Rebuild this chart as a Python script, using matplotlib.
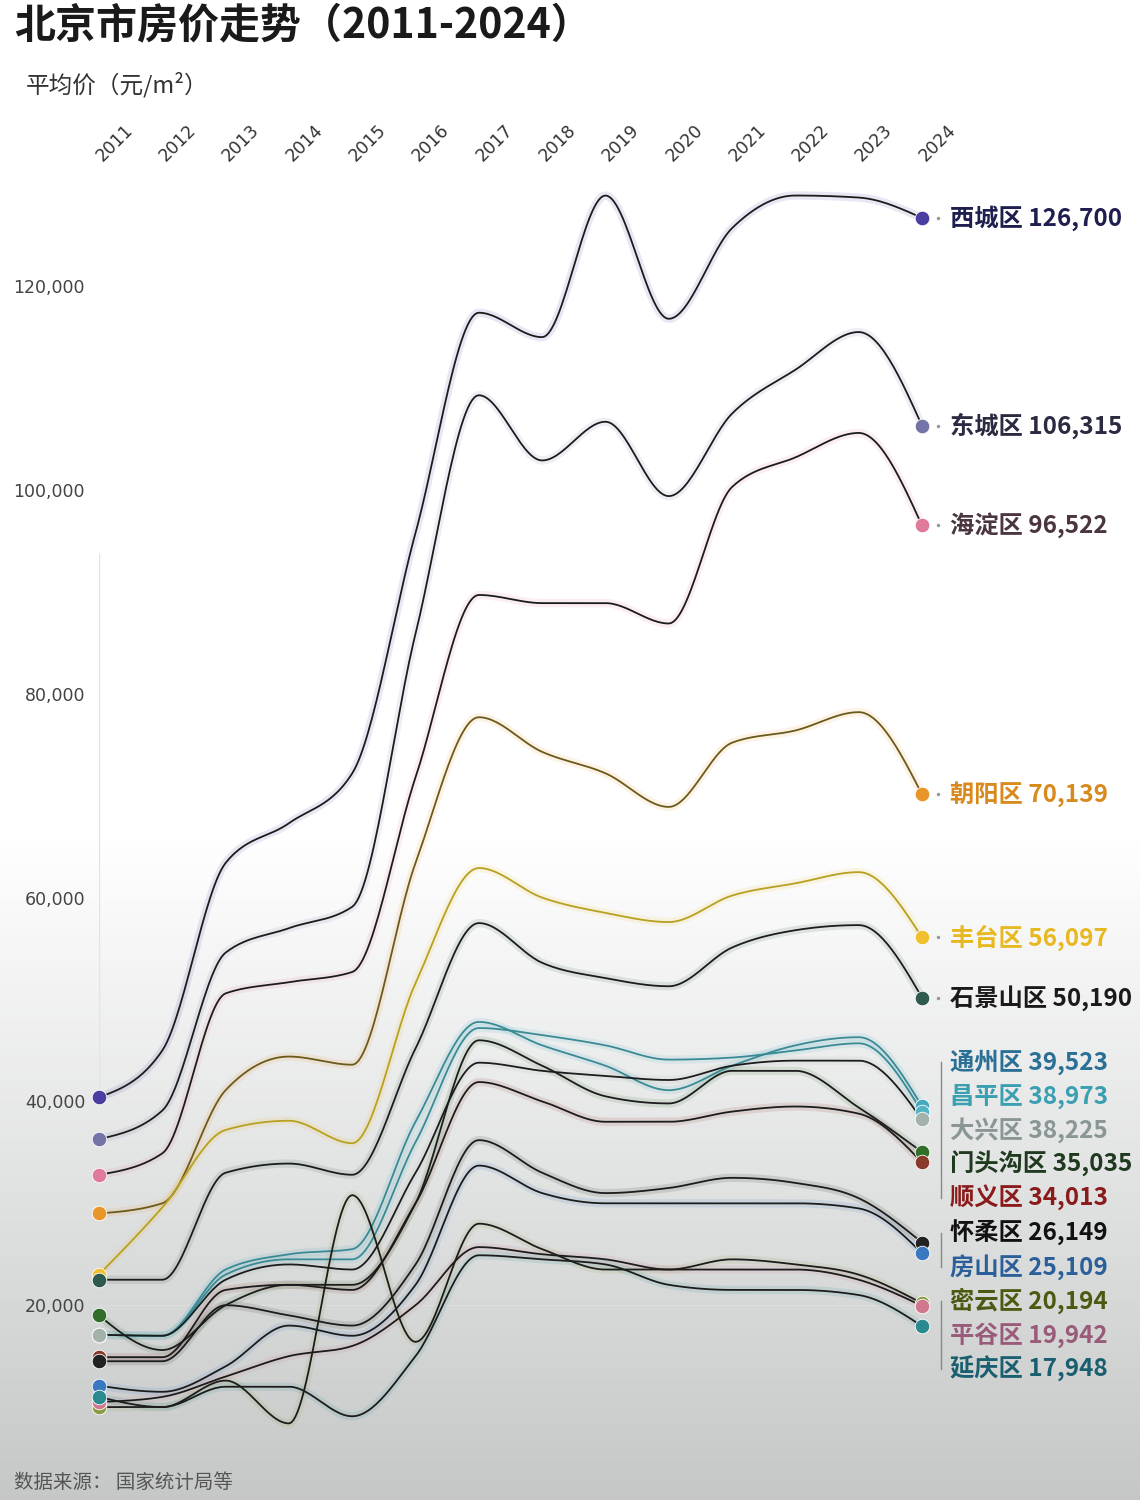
import numpy as np
import matplotlib.pyplot as plt
from matplotlib.transforms import offset_copy

plt.rcParams['font.family'] = ['Noto Sans CJK SC', 'DejaVu Sans']

years = list(range(2011, 2025))
names = ['西城区', '东城区', '海淀区', '朝阳区', '丰台区', '石景山区', '通州区', '昌平区',
         '大兴区', '门头沟区', '顺义区', '怀柔区', '房山区', '密云区', '平谷区', '延庆区']

# 平均价 元/m², 2011-2024
xicheng = [40400, 45000, 63400, 67300, 72200, 95800, 117400, 115000, 128900, 116800, 125700, 128900, 128700, 126700]
dongcheng = [36300, 39100, 54600, 57000, 59100, 85900, 109300, 102900, 106700, 99400, 107500, 111800, 115500, 106315]
haidian = [32800, 34900, 50600, 51700, 52700, 71800, 89700, 88900, 88900, 86900, 100300, 103200, 105600, 96522]
chaoyang = [29000, 30000, 41100, 44400, 43600, 63400, 77700, 74300, 72200, 68900, 75200, 76400, 78200, 70139]
fengtai = [23000, 29600, 37200, 38100, 35900, 51600, 62900, 60000, 58500, 57600, 60200, 61400, 62500, 56097]
shijingshan = [22500, 22500, 33000, 33900, 32800, 45200, 57500, 53600, 52100, 51300, 55100, 56800, 57300, 50190]
tongzhou = [17100, 17000, 23500, 25000, 25500, 38000, 47800, 45500, 43500, 41100, 43500, 45500, 46300, 39523]
changping = [17100, 17000, 23000, 24500, 24500, 36000, 47200, 46500, 45500, 44100, 44300, 45000, 45700, 38973]
daxing = [17100, 17000, 22500, 24000, 23500, 33000, 43800, 43000, 42500, 42100, 43500, 44000, 44000, 38225]
mentougou = [19000, 15600, 20000, 22000, 22000, 30000, 46000, 43500, 40500, 39800, 43000, 43000, 39400, 35035]
shunyi = [14900, 14900, 21500, 22000, 21500, 30000, 41900, 40000, 38000, 38000, 39000, 39500, 38800, 34013]
huairou = [14500, 14500, 20000, 19000, 18000, 24000, 36200, 33000, 31000, 31500, 32500, 32000, 30500, 26149]
fangshan = [12100, 11500, 14000, 18000, 17000, 22000, 33700, 31000, 30000, 30000, 30000, 30000, 29500, 25109]
miyun = [10000, 10000, 12600, 8400, 30800, 16400, 28000, 25500, 23500, 23500, 24500, 24000, 23000, 20194]
pinggu = [10500, 11000, 13000, 15000, 16000, 20000, 25700, 25000, 24500, 23500, 23500, 23500, 22500, 19942]
yanqing = [11000, 10000, 12000, 12000, 9100, 15000, 24900, 24500, 24000, 22000, 21500, 21500, 21000, 17948]

series = [xicheng, dongcheng, haidian, chaoyang, fengtai, shijingshan, tongzhou, changping,
          daxing, mentougou, shunyi, huairou, fangshan, miyun, pinggu, yanqing]

dot_colors = ['#4a3fa0', '#7474a8', '#e07a9a', '#e8952a', '#f0c030', '#2f5a50', '#45a9bf', '#55b4c4',
              '#a3b3ab', '#2f6f2a', '#8a3a2a', '#222222', '#3a78c0', '#8a9a40', '#d07890', '#2a8a90']
line_colors = ['#1c1c1c', '#1c1c1c', '#1c1c1c', '#6b5a1a', '#b8a020', '#1c1c1c', '#3a8a95', '#3a8a95',
               '#1c1c1c', '#1c1c1c', '#1c1c1c', '#1c1c1c', '#1c1c1c', '#1c1c1c', '#1c1c1c', '#1c1c1c']
text_colors = ['#1f1f4f', '#2a2a40', '#4a3540', '#d98a1f', '#e8b820', '#1a1a1a', '#2a6f95', '#3a9fb0',
               '#8a9595', '#1f3a1f', '#8b1a1a', '#111111', '#2b5f9a', '#4a5a10', '#9a5a7a', '#1a5f70']


def monotone(xs, ys, n=30):
    # monotone cubic (like d3.curveMonotoneX)
    xs = np.asarray(xs, float)
    ys = np.asarray(ys, float)
    h = np.diff(xs)
    s = np.diff(ys) / h
    t = np.zeros(len(xs))
    for i in range(1, len(xs) - 1):
        p = (s[i - 1] * h[i] + s[i] * h[i - 1]) / (h[i - 1] + h[i])
        t[i] = (np.sign(s[i - 1]) + np.sign(s[i])) * min(abs(s[i - 1]), abs(s[i]), 0.5 * abs(p))
    t[0] = (3 * s[0] - t[1]) / 2
    t[-1] = (3 * s[-1] - t[-2]) / 2
    u = np.linspace(0, 1, n)
    h00 = 2 * u**3 - 3 * u**2 + 1
    h10 = u**3 - 2 * u**2 + u
    h01 = -2 * u**3 + 3 * u**2
    h11 = u**3 - u**2
    px, py = [], []
    for i in range(len(xs) - 1):
        px.append(xs[i] + u * h[i])
        py.append(h00 * ys[i] + h10 * h[i] * t[i] + h01 * ys[i + 1] + h11 * h[i] * t[i + 1])
    return np.concatenate(px), np.concatenate(py)


fig = plt.figure(figsize=(11.4, 15), dpi=100)

# background: white fading to grey at the bottom
bg = fig.add_axes([0, 0, 1, 1], zorder=-5)
rows = np.linspace(0, 1, 300)
shade = np.clip((rows - 0.56) / 0.44, 0, 1)
r = 1 - shade * (1 - 0.776)
g = 1 - shade * (1 - 0.784)
b = 1 - shade * (1 - 0.784)
img = np.stack([r, g, b], axis=1)[:, None, :]
bg.imshow(img, aspect='auto', extent=[0, 1, 0, 1], origin='upper')
bg.axis('off')

ax = fig.add_axes([99 / 1140, 1 - 1440 / 1500, 823 / 1140, (1440 - 175) / 1500])
ax.set_xlim(2011, 2024)
ax.set_ylim(6771, 130913)
ax.patch.set_alpha(0)
for sp in ax.spines.values():
    sp.set_visible(False)

ax.axvline(2011, ymin=0.27, ymax=0.70, color='#e4e4e4', lw=1, zorder=0)
ax.axhline(20000, color='#dddddd', lw=0.8, zorder=0)

for vals, lc, dc in zip(series, line_colors, dot_colors):
    cx, cy = monotone(years, vals)
    ax.plot(cx, cy, color=dc, lw=6, alpha=0.12, solid_capstyle='round', clip_on=False, zorder=2)
    ax.plot(cx, cy, color=lc, lw=1.3, clip_on=False, zorder=3)
    ax.scatter([years[0], years[-1]], [vals[0], vals[-1]], s=110, color=dc,
               edgecolor='white', linewidth=0.6, clip_on=False, zorder=4)

# end labels with simple dodge
ends = [v[-1] for v in series]
order = sorted(range(len(series)), key=lambda i: -ends[i])
gap = 3340
groups = []
for i in order:
    if groups and ends[groups[-1][-1]] - ends[i] < gap:
        groups[-1].append(i)
    else:
        groups.append([i])
label_y = {}
prev = None
for grp in groups:
    c = np.mean([ends[i] for i in grp])
    top = c + gap * (len(grp) - 1) / 2
    if prev is not None and top > prev - gap:
        top = prev - gap
    for k, i in enumerate(grp):
        label_y[i] = top - k * gap
    prev = label_y[grp[-1]]

right = offset_copy(ax.transData, fig=fig, x=13.5, y=0, units='points')
tick = offset_copy(ax.transData, fig=fig, x=11.5, y=0, units='points')
for grp in groups:
    if len(grp) > 1:
        ax.plot([2024, 2024], [label_y[grp[0]], label_y[grp[-1]]], transform=right,
                color='#888888', lw=1, clip_on=False, zorder=1)
    else:
        ax.plot([2024], [label_y[grp[0]]], transform=tick, marker='o', ms=1.5,
                color='#999999', clip_on=False, zorder=1)

for i, name in enumerate(names):
    ax.annotate(f'{name} {ends[i]:,}', xy=(2024, label_y[i]), xytext=(20, 0),
                textcoords='offset points', ha='left', va='center', fontsize=17.5,
                fontweight='bold', color=text_colors[i], annotation_clip=False)

yt = [20000, 40000, 60000, 80000, 100000, 120000]
ax.set_yticks(yt)
ax.set_yticklabels([f'{v:,}' for v in yt], fontsize=12.5, color='#444444', family='DejaVu Sans')
ax.tick_params(axis='y', length=0, pad=10)

ax.xaxis.tick_top()
ax.set_xticks(years)
ax.set_xticklabels([str(y) for y in years], rotation=45, ha='left', va='center',
                   rotation_mode='anchor', fontsize=12.5, color='#333333', family='DejaVu Sans')
ax.tick_params(axis='x', length=0, pad=12)

fig.text(14 / 1140, 1 - 25 / 1500, '北京市房价走势（2011-2024）', fontsize=29.5, fontweight='bold',
         color='#1a1a1a', va='center', ha='left')
fig.text(26 / 1140, 1 - 85 / 1500, '平均价（元/m²）', fontsize=17, color='#333333',
         va='center', ha='left')
fig.text(14 / 1140, 1 - 1482 / 1500, '数据来源： 国家统计局等', fontsize=14, color='#555555',
         va='center', ha='left')

fig.savefig('out.png', dpi=100)
